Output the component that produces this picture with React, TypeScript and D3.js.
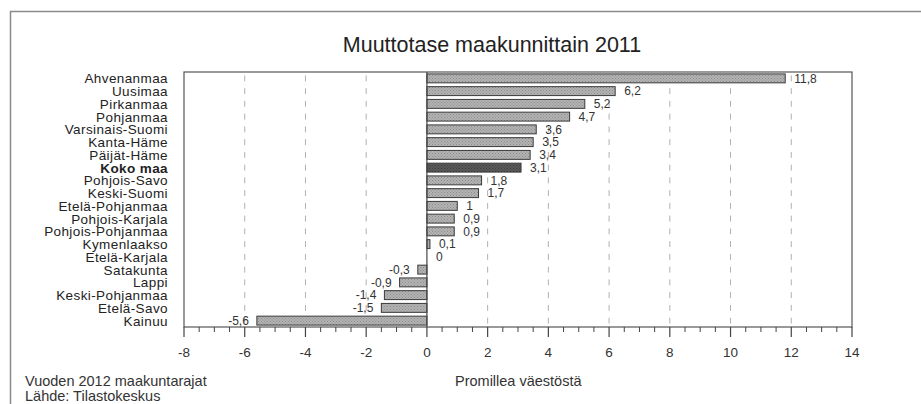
import React from "react";
import * as d3 from "d3";

const categories = [
  "Ahvenanmaa", "Uusimaa", "Pirkanmaa", "Pohjanmaa", "Varsinais-Suomi",
  "Kanta-Häme", "Päijät-Häme", "Koko maa", "Pohjois-Savo", "Keski-Suomi",
  "Etelä-Pohjanmaa", "Pohjois-Karjala", "Pohjois-Pohjanmaa", "Kymenlaakso",
  "Etelä-Karjala", "Satakunta", "Lappi", "Keski-Pohjanmaa", "Etelä-Savo", "Kainuu",
];
const values = [11.8, 6.2, 5.2, 4.7, 3.6, 3.5, 3.4, 3.1, 1.8, 1.7, 1, 0.9, 0.9, 0.1, 0, -0.3, -0.9, -1.4, -1.5, -5.6];
const highlight = "Koko maa";
const majorTicks = [-8, -6, -4, -2, 0, 2, 4, 6, 8, 10, 12, 14];
const title = "Muuttotase maakunnittain 2011";
const xAxisTitle = "Promillea väestöstä";
const notes = ["Vuoden 2012 maakuntarajat", "Lähde: Tilastokeskus"];

const W = 921;
const H = 404;
const FONT = "'Liberation Sans', Arial, Helvetica, sans-serif";

export default function App() {
  const left = 184, right = 852, top = 72, bottom = 327;
  const x = d3.scaleLinear().domain([-8, 14]).range([left, right]);
  const y = d3.scaleBand<string>().domain(categories).range([top, bottom]).paddingInner(0.3).paddingOuter(0.15);
  const bw = y.bandwidth();
  const step = y.step();
  const minor = d3.range(-8, 14.001, 0.5).filter((v) => Math.abs(v / 2 - Math.round(v / 2)) > 1e-6);
  const fmt = (v: number) => String(v).replace(".", ",");
  const firstY = y(categories[0]) as number;

  return (
    <svg width={W} height={H} style={{ position: "absolute", left: 0, top: 0, background: "#fff" }} fontFamily={FONT}>
      <defs>
        <pattern id="stip" width="3" height="3" patternUnits="userSpaceOnUse">
          <rect width="3" height="3" fill="#b4b4b4" />
          <rect x="0" y="0" width="1" height="1" fill="#8a8a8a" />
          <rect x="1.5" y="1.5" width="1" height="1" fill="#8a8a8a" />
        </pattern>
        <pattern id="stipDark" width="3" height="3" patternUnits="userSpaceOnUse">
          <rect width="3" height="3" fill="#5a5a5a" />
          <rect x="0" y="0" width="1" height="1" fill="#3a3a3a" />
          <rect x="1.5" y="1.5" width="1" height="1" fill="#3a3a3a" />
        </pattern>
      </defs>
      {/* outer frame */}
      <path d={`M10.5,${H} V11.5 H${W}`} fill="none" stroke="#8a8a8a" strokeWidth={1.5} />
      <text x={492} y={52} textAnchor="middle" fontSize={21.5} fill="#222">{title}</text>

      {/* dashed grid */}
      {majorTicks.filter((t) => t !== -8 && t !== 0 && t !== 14).map((t) => (
        <line key={"g" + t} x1={x(t)} x2={x(t)} y1={top} y2={bottom}
          stroke="#b0b0b0" strokeWidth={1}
          strokeDasharray={`${bw - 3} ${step - bw + 3}`}
          strokeDashoffset={-(firstY + 1.5 - top)} />
      ))}

      {/* bars */}
      {categories.map((c, i) => {
        const v = values[i];
        const x0 = x(Math.min(0, v));
        const w = Math.abs(x(v) - x(0));
        return (
          <rect key={c} x={x0} y={y(c)} width={w} height={bw}
            fill={c === highlight ? "url(#stipDark)" : "url(#stip)"}
            stroke="#3a3a3a" strokeWidth={1} />
        );
      })}

      {/* plot frame */}
      <rect x={left} y={top} width={right - left} height={bottom - top} fill="none" stroke="#555" strokeWidth={1.2} />
      <line x1={x(0)} x2={x(0)} y1={top} y2={bottom} stroke="#444" strokeWidth={1.2} />

      {/* value labels */}
      {categories.map((c, i) => {
        const v = values[i];
        const cy = (y(c) as number) + bw / 2;
        const pos = v >= 0;
        return (
          <text key={"v" + c} x={pos ? x(v) + 9 : x(v) - 8} y={cy + 4.3}
            textAnchor={pos ? "start" : "end"} fontSize={12} fill="#333">{fmt(v)}</text>
        );
      })}

      {/* category labels */}
      {categories.map((c) => (
        <text key={"c" + c} x={168} y={(y(c) as number) + bw / 2 + 5}
          textAnchor="end" fontSize={13.5} letterSpacing={0.4} fill="#222"
          fontWeight={c === highlight ? "bold" : "normal"}>{c}</text>
      ))}

      {/* axis ticks */}
      {majorTicks.map((t) => (
        <g key={"t" + t}>
          <line x1={x(t)} x2={x(t)} y1={bottom} y2={bottom + 10} stroke="#444" strokeWidth={1.2} />
          <text x={x(t)} y={357} textAnchor="middle" fontSize={13.5} fill="#333">{t}</text>
        </g>
      ))}
      {minor.map((t) => (
        <line key={"m" + t} x1={x(t)} x2={x(t)} y1={bottom} y2={bottom + 5} stroke="#444" strokeWidth={1} />
      ))}

      <text x={455} y={386} fontSize={14.5} fill="#333">{xAxisTitle}</text>
      {notes.map((n, i) => (
        <text key={n} x={25} y={386 + i * 15} fontSize={14.5} fill="#333">{n}</text>
      ))}
    </svg>
  );
}
